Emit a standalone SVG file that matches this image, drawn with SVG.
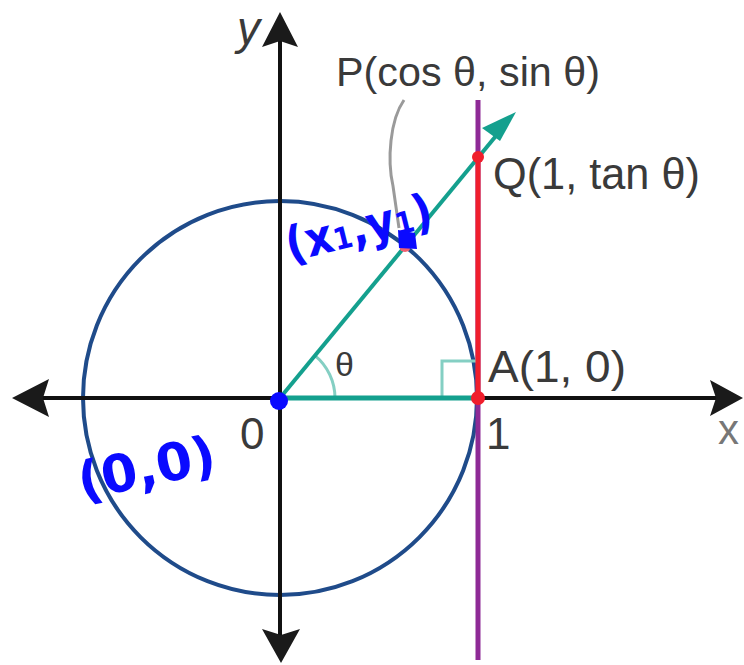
<svg xmlns="http://www.w3.org/2000/svg" width="744" height="665" viewBox="0 0 744 665">
  <style>
    .lbl { font-family: "Liberation Sans", Arial, sans-serif; fill: #3a3a3a; }
    .hand { font-family: "DejaVu Sans", sans-serif; font-weight: bold; fill: #0a0aff; }
    .axis { stroke: #111; stroke-width: 4; fill: none; }
    .ah { fill: #1a1a1a; }
  </style>
  <rect width="744" height="665" fill="#ffffff"/>
  <g id="circle">
    <circle cx="280" cy="398" r="197" fill="none" stroke="#1f4b8a" stroke-width="4"/>
  </g>
  <g id="connectors">
    <line class="axis" x1="30" y1="398" x2="725" y2="398"/>
    <line class="axis" x1="280" y1="30" x2="280" y2="646"/>
    <path class="ah" d="M12 398 L49 379 L43 398 L49 417 Z"/>
    <path class="ah" d="M743 398 L710 380 L716 398 L710 416 Z"/>
    <path class="ah" d="M280 12 L262 47 L280 41 L298 47 Z"/>
    <path class="ah" d="M281 663 L262 629 L281 635 L300 629 Z"/>
    <line x1="478" y1="100" x2="478" y2="660" stroke="#8e2a96" stroke-width="5"/>
    <path d="M442 398 V361 H478" fill="none" stroke="#84cfc3" stroke-width="3"/>
    <path d="M335 398 A55 55 0 0 0 315 355.6" fill="none" stroke="#84cfc3" stroke-width="3"/>
    <line x1="280" y1="398" x2="478" y2="398" stroke="#14a08e" stroke-width="5"/>
    <line x1="280" y1="398" x2="500" y2="131" stroke="#14a08e" stroke-width="4"/>
    <path d="M516 112 L482 128 L500 141 Z" fill="#14a08e"/>
    <line x1="478" y1="157" x2="478" y2="398" stroke="#f01e2c" stroke-width="5"/>
    <path d="M404 100 C390 120 387 160 393 186 L399 228" fill="none" stroke="#9a9a9a" stroke-width="3"/>
  </g>
  <g id="points">
    <circle cx="478" cy="157" r="6" fill="#f01e2c"/>
    <circle cx="478" cy="398" r="7" fill="#f01e2c"/>
    <circle cx="405" cy="246" r="6" fill="#f06070"/>
    <path d="M398 230 L415 233 L417 249 L399 248 Z" fill="#0a0aff"/>
    <circle cx="279" cy="401" r="9" fill="#0a0aff"/>
  </g>
  <g id="labels">
    <text class="lbl" x="237" y="44" font-size="46" font-style="italic" fill="#555">y</text>
    <text class="lbl" x="336" y="86" font-size="40" textLength="264" lengthAdjust="spacingAndGlyphs">P(cos θ, sin θ)</text>
    <text class="lbl" x="493" y="189" font-size="44" textLength="207" lengthAdjust="spacingAndGlyphs">Q(1, tan θ)</text>
    <text class="lbl" x="488" y="382" font-size="44" textLength="138" lengthAdjust="spacingAndGlyphs">A(1, 0)</text>
    <text class="lbl" x="335" y="376" font-size="34">θ</text>
    <text class="lbl" x="240" y="449" font-size="44">0</text>
    <text class="lbl" x="486" y="449" font-size="44">1</text>
    <text class="lbl" x="718" y="444" font-size="42" style="fill:#777">x</text>
  </g>
  <g id="annotations">
    <text class="hand" x="290" y="262" font-size="48" textLength="150" lengthAdjust="spacingAndGlyphs" transform="rotate(-14 290 262)">(x<tspan font-size="30">1</tspan>,y<tspan font-size="30">1</tspan>)</text>
    <text class="hand" x="82" y="500" font-size="52" transform="rotate(-12 82 500)">(0,0)</text>
  </g>
</svg>
